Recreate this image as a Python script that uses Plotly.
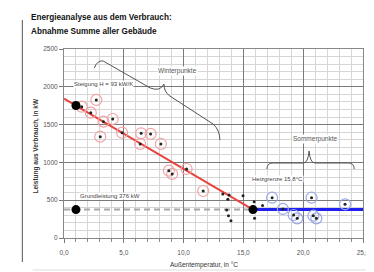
import plotly.graph_objects as go

# ---- data ----
winter_x = [1.48, 2.7, 2.24, 3.3, 4.07, 3.03, 4.86, 6.45, 7.24, 6.37, 8.1, 8.77, 9.04, 10.25, 11.64]
winter_y = [1737, 1826, 1658, 1539, 1574, 1340, 1393, 1385, 1376, 1244, 1244, 890, 847, 913, 622]

trans_x = [13.28, 13.8, 13.7, 14.97, 13.6, 13.75, 13.96, 15.9, 15.93, 16.6]
trans_y = [582, 569, 512, 560, 370, 295, 229, 480, 260, 430]

summer_x = [17.4, 18.3, 19.2, 19.5, 20.7, 20.85, 21.1, 23.5]
summer_y = [533, 384, 304, 260, 533, 295, 260, 446]

key_x = [1.0, 1.0, 15.8]
key_y = [1752, 376, 376]

slope = 93          # kW/K
base_load = 376     # kW
heat_limit = 15.8   # °C
reg_x = [0, heat_limit]
reg_y = [base_load + slope * heat_limit, base_load]
sum_x = [heat_limit, 25]
sum_y = [base_load, base_load]
base_x = [0, heat_limit]
base_y = [base_load, base_load]

x_ticks = [0, 5, 10, 15, 20, 25]
x_tick_text = ["0,0", "5,0", "10,0", "15,0", "20,0", "25,0"]
y_ticks = [0, 500, 1000, 1500, 2000, 2500]
y_tick_text = ["0", "500", "1000", "1500", "2000", "2500"]

FONT = "Liberation Sans, Arial, sans-serif"

fig = go.Figure()

fig.add_trace(go.Scatter(x=base_x, y=base_y, mode="lines",
                         line=dict(color="#a8a8a8", width=2, dash="6px,4px"),
                         hoverinfo="skip", showlegend=False))
fig.add_trace(go.Scatter(x=reg_x, y=reg_y, mode="lines",
                         line=dict(color="#e8433f", width=2),
                         showlegend=False, cliponaxis=False))
fig.add_trace(go.Scatter(x=sum_x, y=sum_y, mode="lines",
                         line=dict(color="#2020f0", width=3),
                         showlegend=False))
fig.add_trace(go.Scatter(x=winter_x, y=winter_y, mode="markers",
                         marker=dict(symbol="circle-open", size=11, color="#f2a3a3",
                                     line=dict(width=1.2, color="#f2a3a3")),
                         showlegend=False))
fig.add_trace(go.Scatter(x=summer_x, y=summer_y, mode="markers",
                         marker=dict(symbol="circle-open", size=11, color="#9aa8e6",
                                     line=dict(width=1.2, color="#9aa8e6")),
                         showlegend=False))
fig.add_trace(go.Scatter(x=winter_x + trans_x + summer_x, y=winter_y + trans_y + summer_y,
                         mode="markers", marker=dict(size=3, color="#222222"),
                         showlegend=False))
fig.add_trace(go.Scatter(x=key_x, y=key_y, mode="markers",
                         marker=dict(size=9, color="#000000"),
                         showlegend=False, cliponaxis=False))

# plot area in window pixels: x 64..369, y 49..238 (page has an 8px body margin)
def px(xp):
    return (xp - 64) / 305.0

def py(yp):
    return (238 - yp) / 189.0

ann = []
ann.append(dict(text="<b>Energieanalyse aus dem Verbrauch:</b>", x=px(28), y=py(17), xref="paper", yref="paper",
                xanchor="left", yanchor="middle", showarrow=False,
                font=dict(family=FONT, size=8.2, color="#111")))
ann.append(dict(text="<b>Abnahme Summe aller Gebäude</b>", x=px(28), y=py(32), xref="paper", yref="paper",
                xanchor="left", yanchor="middle", showarrow=False,
                font=dict(family=FONT, size=8.2, color="#111")))
ann.append(dict(text="<b>Leistung aus Verbrauch, in kW</b>", x=px(35), y=py(146), xref="paper", yref="paper",
                textangle=-90, xanchor="center", yanchor="middle", showarrow=False,
                font=dict(family=FONT, size=6.5, color="#333")))
ann.append(dict(text="Außentemperatur, in °C", x=px(207), y=py(265), xref="paper", yref="paper",
                xanchor="center", yanchor="middle", showarrow=False,
                font=dict(family=FONT, size=6.5, color="#333")))
ann.append(dict(text="Steigung H = 93 kW/K", x=px(104), y=py(84), xref="paper", yref="paper",
                xanchor="center", yanchor="middle", showarrow=False, bgcolor="white", borderpad=0,
                font=dict(family=FONT, size=6, color="#444")))
ann.append(dict(text="Grundleistung 376 kW", x=px(111), y=py(196), xref="paper", yref="paper",
                xanchor="center", yanchor="middle", showarrow=False, bgcolor="white", borderpad=0,
                font=dict(family=FONT, size=6, color="#444")))
ann.append(dict(text="Heizgrenze 15,8°C", x=px(282), y=py(179), xref="paper", yref="paper",
                xanchor="center", yanchor="middle", showarrow=False, bgcolor="white", borderpad=0,
                font=dict(family=FONT, size=6, color="#444")))
ann.append(dict(text="Winterpunkte", x=px(180), y=py(71), xref="paper", yref="paper",
                xanchor="center", yanchor="middle", showarrow=False, bgcolor="white", borderpad=0,
                font=dict(family=FONT, size=6.5, color="#555")))
ann.append(dict(text="Sommerpunkte", x=px(320), y=py(139), xref="paper", yref="paper",
                xanchor="center", yanchor="middle", showarrow=False, bgcolor="white", borderpad=0,
                font=dict(family=FONT, size=6.5, color="#555")))

def path_px(cmds):
    out = []
    for c in cmds:
        if isinstance(c, str):
            out.append(c)
        else:
            out.append("%.4f,%.4f" % (px(c[0]), py(c[1])))
    return " ".join(out)

winter_brace = path_px(["M", (95, 68), "Q", (98, 60), (104, 61), "L", (152, 88),
                        "Q", (162, 92), (166, 84), "Q", (166, 92), (172, 96),
                        "L", (216, 124), "Q", (223, 130), (223, 140)])
summer_brace = path_px(["M", (271, 169), "Q", (271, 163), (277, 163), "L", (308, 163),
                        "Q", (313, 163), (314, 151), "Q", (315, 163), (320, 163),
                        "L", (354, 163), "Q", (360, 163), (360, 169)])

shapes = [
    dict(type="path", path=winter_brace, xref="paper", yref="paper", line=dict(color="#555", width=1)),
    dict(type="path", path=summer_brace, xref="paper", yref="paper", line=dict(color="#555", width=1)),
    dict(type="line", xref="paper", yref="paper", x0=px(21.5), x1=px(21.5), y0=py(20), y1=py(262),
         line=dict(color="#555", width=1)),
    dict(type="line", xref="paper", yref="paper", x0=px(40), x1=px(330), y0=py(6), y1=py(6),
         line=dict(color="#999", width=1)),
    dict(type="line", xref="paper", yref="paper", x0=px(32), x1=px(374), y0=py(270), y1=py(270),
         line=dict(color="#ddd", width=1)),
]

fig.update_layout(
    width=374, height=272,
    margin=dict(l=56, r=13, t=41, b=42),
    paper_bgcolor="white", plot_bgcolor="white",
    showlegend=False,
    annotations=ann, shapes=shapes,
    font=dict(family=FONT, size=6.5, color="#555"),
)
fig.update_xaxes(range=[0, 25], tickvals=x_ticks, ticktext=x_tick_text,
                 showgrid=True, gridcolor="#7a7a7a", gridwidth=1,
                 minor=dict(dtick=1, showgrid=True, gridcolor="#d6d6d6", ticks="outside", ticklen=3, tickcolor="#888"),
                 ticks="outside", ticklen=4, tickcolor="#777",
                 showline=True, linecolor="#888", mirror=True, zeroline=False,
                 ticklabelstandoff=4, tickfont=dict(size=6.5, color="#555"))
fig.update_yaxes(range=[0, 2500], tickvals=y_ticks, ticktext=y_tick_text,
                 showgrid=True, gridcolor="#7a7a7a", gridwidth=1,
                 minor=dict(dtick=100, showgrid=True, gridcolor="#d6d6d6"),
                 ticks="outside", ticklen=4, tickcolor="#777",
                 showline=True, linecolor="#888", mirror=True, zeroline=False,
                 tickfont=dict(size=6.5, color="#555"))

fig.write_html("out.html")
